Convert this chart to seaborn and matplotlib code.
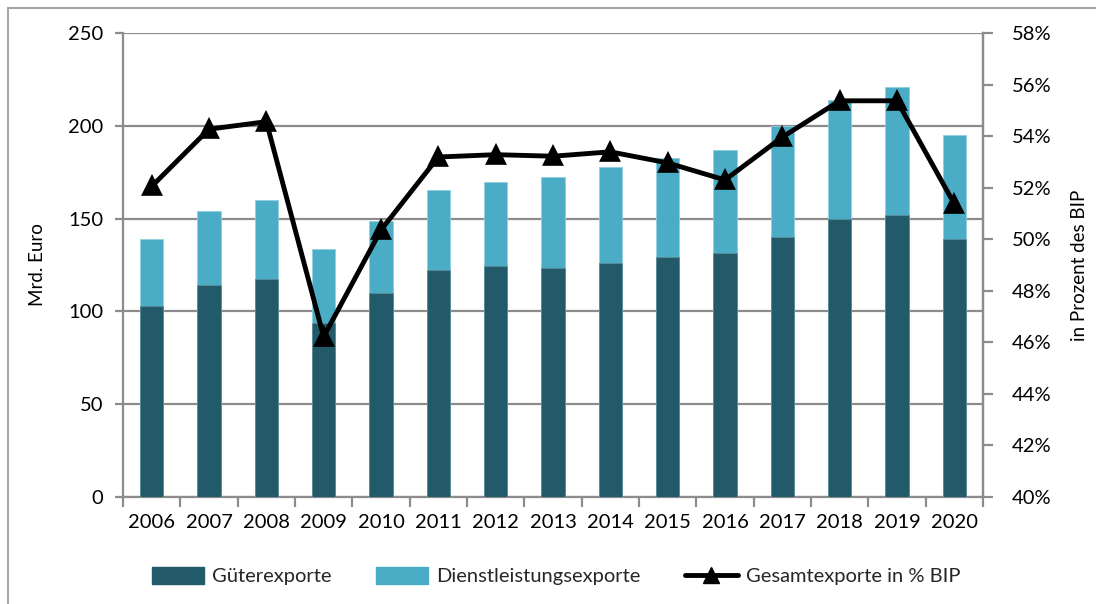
import matplotlib
matplotlib.use("Agg")
import matplotlib.pyplot as plt
import seaborn as sns
import numpy as np
import pandas as pd
from matplotlib.lines import Line2D
from matplotlib.patches import Patch
from matplotlib.ticker import FixedLocator, FuncFormatter

years = ["2006", "2007", "2008", "2009", "2010", "2011", "2012", "2013",
         "2014", "2015", "2016", "2017", "2018", "2019", "2020"]
gueter = [102.7, 114.2, 117.3, 93.9, 109.7, 122.3, 124.6, 123.6,
          125.9, 129.5, 131.6, 140.3, 149.6, 151.9, 138.8]
gesamt_mrd = [139.2, 154.3, 160.0, 133.4, 148.9, 165.4, 169.9, 172.2,
              178.0, 182.5, 187.0, 199.9, 213.9, 220.7, 195.2]
pct_bip = [52.05, 54.27, 54.56, 46.22, 50.36, 53.19, 53.28, 53.22,
           53.39, 52.96, 52.30, 53.96, 55.37, 55.37, 51.37]

left_ticks = [0, 50, 100, 150, 200, 250]
right_ticks = [40, 42, 44, 46, 48, 50, 52, 54, 56, 58]

lbl_gueter = "Güterexporte"
lbl_dienst = "Dienstleistungsexporte"
lbl_line = "Gesamtexporte in % BIP"
ylabel_left = "Mrd. Euro"
ylabel_right = "in Prozent des BIP"

dark = "#225A69"
light = "#4BACC6"
grid_c = "#8C8C8C"

sns.set_theme(style="white")
plt.rcParams["font.family"] = ["Lato", "DejaVu Sans"]

df = pd.DataFrame({"Jahr": years, "Gueter": gueter, "Gesamt": gesamt_mrd, "Pct": pct_bip})

fig = plt.figure(figsize=(10.96, 6.04), dpi=100)
ax = fig.add_axes([123/1096, 1-497/604, (983-123)/1096, (497-33)/604])

sns.barplot(data=df, x="Jahr", y="Gesamt", color=light, width=0.41, ax=ax,
            saturation=1, edgecolor="#8FCFDF", linewidth=0.6, zorder=2)
sns.barplot(data=df, x="Jahr", y="Gueter", color=dark, width=0.41, ax=ax,
            saturation=1, edgecolor="#5E8C98", linewidth=0.6, zorder=3)

ax.set_ylim(0, 250)
ax.set_xlim(-0.5, len(years) - 0.5)
ax.yaxis.set_major_locator(FixedLocator(left_ticks))
ax.grid(axis="y", color=grid_c, linewidth=1.6, zorder=0)
ax.set_axisbelow(True)
ax.set_xlabel("")
ax.set_ylabel(ylabel_left, fontsize=13.5, labelpad=16, color="#000000")

for s in ["left", "bottom", "right"]:
    ax.spines[s].set_color(grid_c)
    ax.spines[s].set_linewidth(1.6)
ax.spines["top"].set_visible(False)

ax.tick_params(axis="y", which="major", direction="out", length=6, width=1.6,
               color=grid_c, labelsize=14.5, pad=8, labelcolor="#000000", left=True)
ax.tick_params(axis="x", which="major", length=0, labelsize=14.5, pad=12, labelcolor="#000000")
ax.xaxis.set_minor_locator(FixedLocator(np.arange(-0.5, len(years), 1.0)))
ax.tick_params(axis="x", which="minor", direction="out", length=7, width=1.6,
               color=grid_c, bottom=True)

ax2 = ax.twinx()
sns.pointplot(data=df, x="Jahr", y="Pct", color="black", markers="^",
              linestyles="-", ax=ax2, linewidth=3.5, markersize=12)
ax2.set_ylim(40, 58)
ax2.set_xlim(-0.5, len(years) - 0.5)
ax2.yaxis.set_major_locator(FixedLocator(right_ticks))
ax2.yaxis.set_major_formatter(FuncFormatter(lambda v, p: f"{v:.0f}%"))
ax2.set_ylabel(ylabel_right, fontsize=13.5, labelpad=14, color="#000000")
ax2.set_xlabel("")
ax2.grid(False)
for s in ["left", "bottom", "top"]:
    ax2.spines[s].set_visible(False)
ax2.spines["right"].set_color(grid_c)
ax2.spines["right"].set_linewidth(1.6)
ax2.tick_params(axis="y", direction="out", length=7, width=1.6, color=grid_c,
                labelsize=14.5, pad=14, labelcolor="#000000", right=True)

handles = [
    Patch(facecolor=dark, edgecolor=dark),
    Patch(facecolor=light, edgecolor=light),
    Line2D([0], [0], color="black", linewidth=3.5, marker="^", markersize=11),
]
fig.legend(handles, [lbl_gueter, lbl_dienst, lbl_line], loc="center",
           bbox_to_anchor=(556/1096, 1-576/604), ncol=3, frameon=False,
           fontsize=14.5, handlelength=2.6, handleheight=0.9, columnspacing=2.2,
           handletextpad=0.4)

fig.add_artist(Line2D([8/1096, 8/1096], [0, 1-8/604], transform=fig.transFigure,
                      color="#A6A6A6", linewidth=1.5))
fig.add_artist(Line2D([8/1096, 1], [1-8/604, 1-8/604], transform=fig.transFigure,
                      color="#A6A6A6", linewidth=1.5))

fig.savefig("out.png", dpi=100)
